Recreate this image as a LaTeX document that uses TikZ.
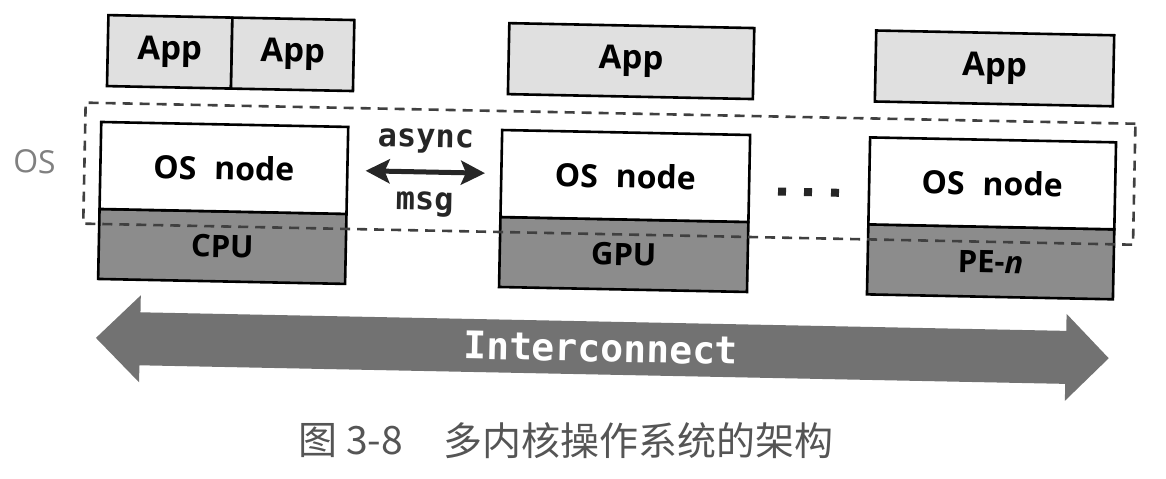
\documentclass[tikz,border=0pt]{standalone}
\usepackage{fontspec}
\setmainfont{Open Sans}
\newfontfamily\monof{DejaVu Sans Mono}
\newfontfamily\cjkf{Noto Sans CJK SC}
\usetikzlibrary{arrows.meta}
\definecolor{appfill}{HTML}{E0E0E0}
\definecolor{hwfill}{HTML}{8C8C8C}
\definecolor{icfill}{HTML}{727272}
\definecolor{capgray}{HTML}{555555}
\begin{document}
\begin{tikzpicture}[x=0.5pt,y=-0.5pt,
  appbox/.style={draw, line width=1.3pt, fill=appfill, minimum height=35.5pt, inner sep=0pt,
    font=\bfseries\fontsize{16.5}{19}\selectfont},
  osbox/.style={draw, line width=1.3pt, fill=white, minimum height=43.5pt, inner sep=0pt,
    font=\bfseries\fontsize{16}{19}\selectfont},
  hwbox/.style={draw, line width=1.3pt, fill=hwfill, minimum height=35pt, inner sep=0pt,
    font=\bfseries\fontsize{15.5}{18}\selectfont},
  osframe/.style={draw=black!75, line width=1.3pt, dash pattern=on 5pt off 3.5pt, inner sep=0pt},
  msgtext/.style={font=\monof\bfseries\fontsize{16}{19}\selectfont, text=black!85, inner sep=0pt},
  msgarrow/.style={line width=2.5pt, black!85, {Stealth[length=12pt,width=12pt,inset=2.5pt]}-{Stealth[length=12pt,width=12pt,inset=2.5pt]}},
  dotsq/.style={fill=black!85, minimum size=4pt, inner sep=0pt},
  captext/.style={anchor=west, inner sep=0pt, text=capgray, font=\cjkf\fontsize{19.5}{22}\selectfont}
]
\useasboundingbox (0,0) rectangle (1166,478);
\begin{scope}[rotate around={-1.15:(600,240)}, transform shape]
  % Apps
  \node[appbox, minimum width=62pt] (appA) at (166,60.5) {App};
  \node[appbox, minimum width=61pt] (appB) at (289,60.5) {App};
  \node[appbox, minimum width=122.5pt] (appC) at (627.5,60.5) {App};
  \node[appbox, minimum width=119pt] (appD) at (991,60.5) {App};
  % hardware
  \node[hwbox, minimum width=123.5pt] (cpu) at (222.5,254) {CPU};
  \node[hwbox, minimum width=124pt] (gpu) at (624,254) {GPU};
  \node[hwbox, minimum width=123pt] (pe) at (991,254) {PE-\textit{n}};
  % OS nodes
  \node[osbox, minimum width=123.5pt] (osA) at (222.5,175.5) {OS\hspace{0.3em} node};
  \node[osbox, minimum width=124pt] (osB) at (624,175.5) {OS\hspace{0.3em} node};
  \node[osbox, minimum width=123pt] (osC) at (991,175.5) {OS\hspace{0.3em} node};
  % OS frame
  \node[osframe, minimum width=525pt, minimum height=60.5pt] (frame) at (608,173.5) {};
  \node[text=black!50, inner sep=0pt, font=\fontsize{16}{19}\selectfont] (oslabel) at (33,173) {OS};
  % async msg
  \draw[msgarrow, shorten <=8.5pt, shorten >=7.5pt] (osA.east) -- (osB.west);
  \node[msgtext, anchor=base] (async) at (424,150.5) {async};
  \node[msgtext, anchor=base] (msg) at (424,213.5) {msg};
  % dots
  \node[dotsq] (d1) at (781,188) {};
  \node[dotsq] (d2) at (807,188) {};
  \node[dotsq] (d3) at (834,188) {};
  % interconnect
  \fill[icfill] (98,348) -- (142,304.5) -- (142,321.5) -- (1068,321.5) -- (1068,304.5)
    -- (1111,348) -- (1068,391.5) -- (1068,374.5) -- (142,374.5) -- (142,391.5) -- cycle;
  \node[text=white, inner sep=0pt, font=\monof\bfseries\fontsize{19}{22}\selectfont] (ic) at (603,348) {Interconnect};
\end{scope}
\node[captext] (cap1) at (298,441) {图 3-8};
\node[captext] (cap2) at (443,441) {多内核操作系统的架构};
\end{tikzpicture}
\end{document}
